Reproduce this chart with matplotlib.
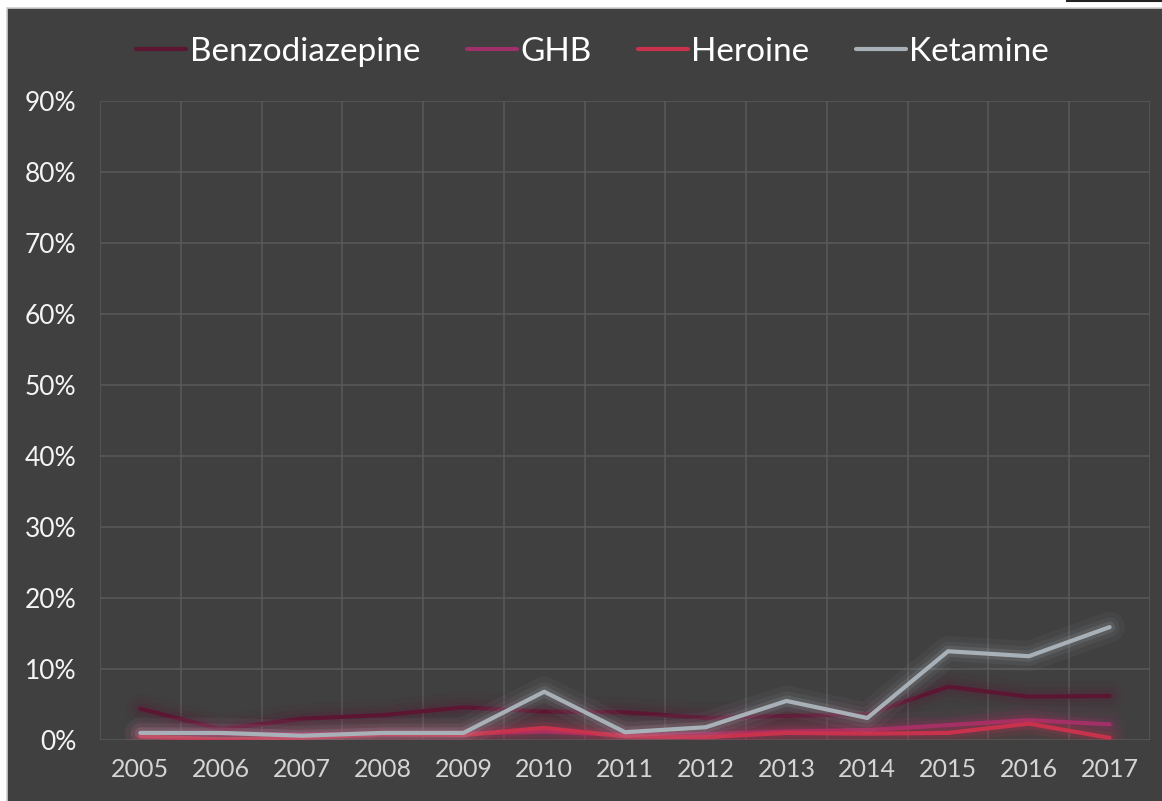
import matplotlib
matplotlib.use("Agg")
import matplotlib.pyplot as plt
import matplotlib.patheffects as pe
from matplotlib.ticker import MultipleLocator, FuncFormatter

# Datos (porcentaje)
years = ['2005', '2006', '2007', '2008', '2009', '2010', '2011',
         '2012', '2013', '2014', '2015', '2016', '2017']
benzodiazepine = [4.4, 1.5, 3.0, 3.5, 4.6, 4.0, 3.9, 3.1, 3.4, 3.6, 7.5, 6.1, 6.2]
ghb = [1.0, 0.9, 0.8, 0.9, 0.9, 1.2, 0.7, 0.8, 1.2, 1.4, 2.1, 2.8, 2.2]
heroine = [0.5, 0.1, 0.3, 0.8, 0.7, 1.7, 0.5, 0.4, 1.0, 0.9, 1.0, 2.3, 0.3]
ketamine = [1.0, 1.0, 0.6, 1.0, 1.0, 6.8, 1.1, 1.8, 5.5, 3.1, 12.5, 11.8, 15.9]

series = [
    ('Benzodiazepine', benzodiazepine, '#5c1632'),
    ('GHB', ghb, '#a0306a'),
    ('Heroine', heroine, '#c8324c'),
    ('Ketamine', ketamine, '#a9b1b8'),
]

BG = '#404040'
plt.rcParams['font.family'] = ['Lato', 'DejaVu Sans']

fig = plt.figure(figsize=(11.62, 8.01), dpi=100)
fig.patch.set_facecolor('white')
# panel oscuro (deja una franja blanca arriba e izquierda)
panel = plt.Rectangle((7 / 1162, -0.01), 1, 1 - 8 / 801 + 0.01, transform=fig.transFigure,
                      facecolor=BG, edgecolor='#cfcfcf', linewidth=1.2, zorder=-5)
fig.patches.append(panel)
fig.add_artist(plt.Line2D([1067 / 1162, 1], [1 - 1 / 801, 1 - 1 / 801], color='#222222',
                          linewidth=1.5, transform=fig.transFigure))

ax = fig.add_axes([100 / 1162, 1 - 740 / 801, 1050 / 1162, 639 / 801])
ax.set_facecolor(BG)

x = list(range(len(years)))
for name, vals, color in series:
    glow = [pe.Stroke(linewidth=22, foreground=color, alpha=0.06),
            pe.Stroke(linewidth=14, foreground=color, alpha=0.08),
            pe.Stroke(linewidth=8, foreground=color, alpha=0.15),
            pe.Normal()]
    ax.plot(x, vals, color=color, linewidth=3, label=name, path_effects=glow,
            solid_capstyle='round', zorder=3)

ax.set_xlim(-0.5, len(years) - 0.5)
ax.set_ylim(0, 90)
ax.yaxis.set_major_locator(MultipleLocator(10))
ax.yaxis.set_major_formatter(FuncFormatter(lambda v, p: f'{int(v)}%'))
ax.set_xticks(x)
ax.set_xticklabels(years)
ax.set_xticks([i - 0.5 for i in range(len(years) + 1)], minor=True)

ax.grid(True, which='major', axis='y', color='#585858', linewidth=1.2, zorder=1)
ax.grid(True, which='minor', axis='x', color='#585858', linewidth=1.2, zorder=1)
ax.grid(False, which='major', axis='x')
ax.set_axisbelow(True)
for s in ax.spines.values():
    s.set_visible(False)

ax.tick_params(axis='both', which='both', length=0)
ax.tick_params(axis='y', labelsize=19, labelcolor='#f4f4f4', pad=17)
ax.tick_params(axis='x', labelsize=18, labelcolor='#d4d4d4', pad=13)

leg = fig.legend(loc='center', bbox_to_anchor=(0.51, 1 - 52 / 801), ncol=4, frameon=False,
                 fontsize=24, handlelength=1.5, handletextpad=0.1, columnspacing=1.4)
for t in leg.get_texts():
    t.set_color('white')
for h in leg.legend_handles:
    h.set_path_effects([])
    h.set_linewidth(3)

fig.savefig('out.png', dpi=100, facecolor=fig.get_facecolor())
